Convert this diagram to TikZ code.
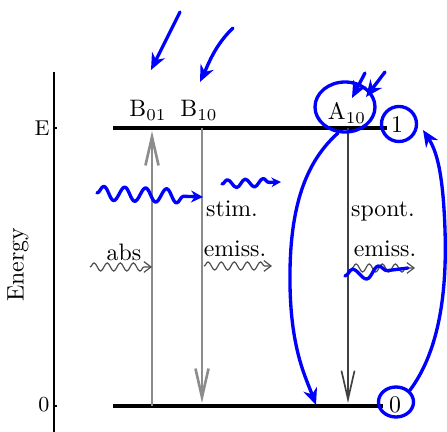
\documentclass[tikz,border=0pt]{standalone}
\usepackage{tikz}
\usetikzlibrary{arrows.meta, shapes.geometric, decorations.pathmorphing}

\begin{document}
\begin{tikzpicture}[
    x=0.42pt, y=-0.42pt,
    axis/.style={line width=0.8pt, black},
    level/.style={line width=2pt, black},
    trans/.style={line width=1.1pt, black!45, -{Straight Barb[length=12pt, width=5.5pt]}},
    spont/.style={line width=0.7pt, black!75, -{Straight Barb[length=12pt, width=5.5pt]}},
    photon/.style={black!70, line width=0.5pt, decorate,
      decoration={snake, amplitude=1.7pt, segment length=5.5pt, post length=3pt},
      -{Straight Barb[length=3pt, width=4.5pt]}},
    lbl/.style={font=\normalsize, anchor=base},
    tick/.style={font=\small},
    ink/.style={draw=blue, line width=1.4pt, line cap=round, line join=round},
    inkarr/.style={ink, -{Stealth[length=7pt, width=6pt]}},
    ring/.style={ink, ellipse, inner sep=0pt},
    scrib/.style={ink, decorate,
      decoration={snake, amplitude=2.9pt, segment length=8.8pt, post length=4pt}}
]
\useasboundingbox (0,0) rectangle (447,432);
% Energy axis with its two ticks
\coordinate (axtop) at (54,72);
\coordinate (axbot) at (54,432);
\draw[axis] (axtop) -- (axbot);
\coordinate (tickE) at (54,128);
\coordinate (tick0) at (54,406);
\draw[axis] (tickE) -- ++(3,0);
\draw[axis] (tick0) -- ++(3,0);
\node[tick] (lE) at (42,128) {E};
\node[tick] (l0) at (44,405) {0};
\node[rotate=90] (energy) at (18,265) {Energy};
% The two levels
\coordinate (lvl1w) at (113,128);
\coordinate (lvl1e) at (387,128);
\coordinate (lvl0w) at (113,406);
\coordinate (lvl0e) at (383,406);
\draw[level] (lvl1w) -- (lvl1e);
\draw[level] (lvl0w) -- (lvl0e);
\node (n1) at (397,125) {1};
\node (n0) at (395,405) {0};
% Einstein coefficients
\node[lbl] (B01) at (148,117) {B$_{01}$};
\node[lbl] (B10) at (199,117) {B$_{10}$};
\node[lbl] (A10) at (347,120) {A$_{10}$};
% Transitions between the levels
\coordinate (abs0) at (152,406);
\coordinate (abs1) at (152,131);
\coordinate (stim1) at (202,128);
\coordinate (stim0) at (202,403);
\coordinate (spo1) at (348,128);
\coordinate (spo0) at (348,403);
\draw[trans] (abs0) -- (abs1);
\draw[trans] (stim1) -- (stim0);
\draw[spont] (spo1) -- (spo0);
% Photons
\coordinate (ph1s) at (90,267);
\coordinate (ph1e) at (152,267);
\coordinate (ph2s) at (204,266);
\coordinate (ph2e) at (272,266);
\coordinate (ph3s) at (352,268);
\coordinate (ph3e) at (415,268);
\draw[photon] (ph1s) -- (ph1e);
\draw[photon] (ph2s) -- (ph2e);
\draw[photon] (ph3s) -- (ph3e);
\node[lbl] (abs) at (124,261) {abs};
\node[lbl] (stim) at (232,217) {stim.};
\node[lbl] (emi1) at (235,257) {emiss.};
\node[lbl] (spo) at (383,217) {spont.};
\node[lbl] (emi2) at (385,257) {emiss.};
% Blue pen marks on top
\node[ring, minimum width=25.2pt, minimum height=21pt] (ringA) at (345,107) {};
\node[ring, minimum width=14.7pt, minimum height=14.7pt] (ring1) at (399,124) {};
\node[ring, minimum width=14.7pt, minimum height=12.6pt] (ring0) at (396,402) {};
\coordinate (t1) at (180,12);
\coordinate (h1) at (151,70);
\coordinate (t2) at (233,28);
\coordinate (h2) at (200,82);
\draw[inkarr] (t1) -- (h1);
\draw[inkarr] (t2) .. controls (215,45) and (208,65) .. (h2);
\coordinate (t3) at (365,73);
\coordinate (h3) at (352,98);
\coordinate (t4) at (385,72);
\coordinate (h4) at (366,97);
\draw[inkarr] (t3) -- (h3);
\draw[inkarr] (t4) -- (h4);
\coordinate (hit0) at (316,405);
\coordinate (hit1) at (423,130);
\draw[inkarr] (ringA.255) .. controls (302,165) and (289,215) .. (290,285)
  .. controls (291,350) and (306,378) .. (hit0);
\draw[inkarr] (ring0.40) .. controls (440,350) and (447,290) .. (445,230)
  .. controls (443,170) and (436,150) .. (hit1);
\coordinate (w1s) at (97,193);
\coordinate (w1e) at (203,197);
\coordinate (w2s) at (222,184);
\coordinate (w2e) at (281,182);
\coordinate (w3s) at (345,276);
\coordinate (w3e) at (408,268);
\draw[scrib, -{Stealth[length=5pt, width=5pt]}] (w1s) -- (w1e);
\draw[scrib, decoration={amplitude=1.7pt, segment length=7.5pt}, -{Stealth[length=4pt, width=4pt]}] (w2s) -- (w2e);
\draw[scrib, decoration={amplitude=2.4pt, segment length=11pt}] (w3s) -- (w3e);
\end{tikzpicture}
\end{document}
